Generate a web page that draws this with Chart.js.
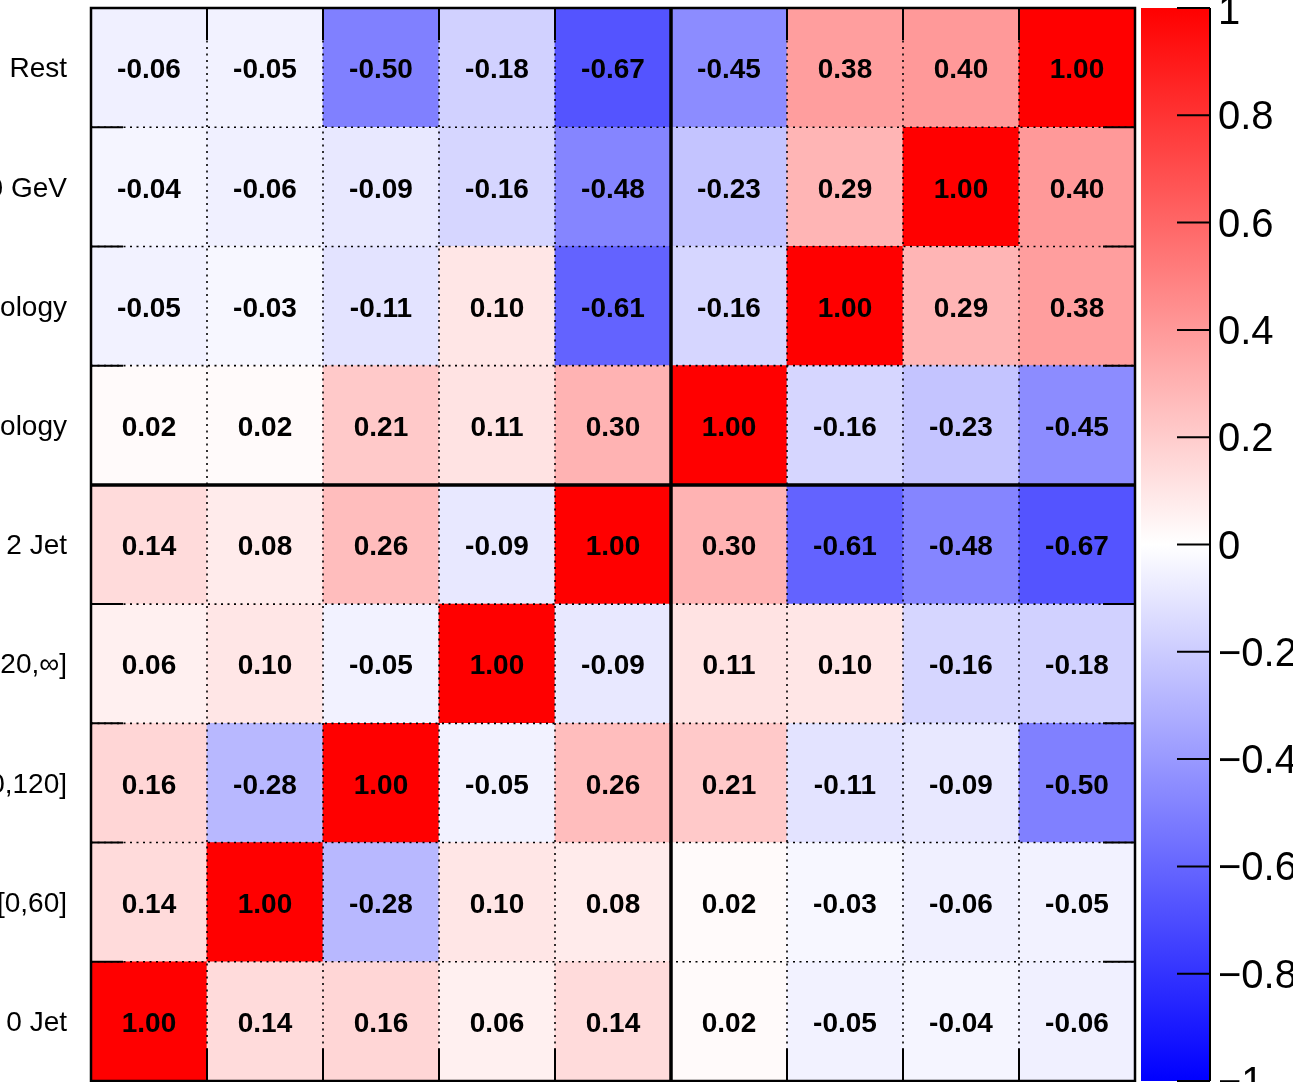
<!DOCTYPE html>
<html>
<head>
<meta charset="utf-8">
<script src="https://cdn.jsdelivr.net/npm/chart.js@4.4.0/dist/chart.umd.min.js"></script>
<style>
  html, body { margin: 0; padding: 0; background: #fff; }
  canvas { display: block; }
</style>
</head>
<body>
<canvas id="corr" width="1293" height="1082"></canvas>
<script>
// categories, bottom row / left column first
const categories = [
    '0 Jet',
    '1 Jet, pT \u2208 [0,60]',
    '1 Jet, pT \u2208 [60,120]',
    '1 Jet, pT \u2208 [120,\u221e]',
    '2 Jet',
    'VH Topology',
    'VBF Topology',
    'pT > 200 GeV',
    'Rest'
];

// correlation rows, same order as categories
const row0 = [1.00, 0.14, 0.16, 0.06, 0.14, 0.02, -0.05, -0.04, -0.06];
const row1 = [0.14, 1.00, -0.28, 0.10, 0.08, 0.02, -0.03, -0.06, -0.05];
const row2 = [0.16, -0.28, 1.00, -0.05, 0.26, 0.21, -0.11, -0.09, -0.50];
const row3 = [0.06, 0.10, -0.05, 1.00, -0.09, 0.11, 0.10, -0.16, -0.18];
const row4 = [0.14, 0.08, 0.26, -0.09, 1.00, 0.30, -0.61, -0.48, -0.67];
const row5 = [0.02, 0.02, 0.21, 0.11, 0.30, 1.00, -0.16, -0.23, -0.45];
const row6 = [-0.05, -0.03, -0.11, 0.10, -0.61, -0.16, 1.00, 0.29, 0.38];
const row7 = [-0.04, -0.06, -0.09, -0.16, -0.48, -0.23, 0.29, 1.00, 0.40];
const row8 = [-0.06, -0.05, -0.50, -0.18, -0.67, -0.45, 0.38, 0.40, 1.00];
const rows = [row0, row1, row2, row3, row4, row5, row6, row7, row8];

const colorbarTicks = [1, 0.8, 0.6, 0.4, 0.2, 0, -0.2, -0.4, -0.6, -0.8, -1];
const groupSplit = 4; // thick lines after this index

function valueColor(v) {
    if (v >= 0) {
        const c = Math.round(255 * (1 - v));
        return `rgb(255, ${c}, ${c})`;
    }
    const c = Math.round(255 * (1 + v));
    return `rgb(${c}, ${c}, 255)`;
}

function tickText(v) {
    if (v === 0) return '0';
    if (Math.abs(v) === 1) return v < 0 ? '\u22121' : '1';
    const s = Math.abs(v).toFixed(1);
    return v < 0 ? '\u2212' + s : s;
}

const datasets = rows.map((row, i) => ({
    label: categories[i],
    data: row.map(() => [i - 0.5, i + 0.5]),
    backgroundColor: row.map(valueColor),
    borderWidth: 0,
    barPercentage: 1,
    categoryPercentage: 1,
    grouped: false
}));

const FONT = "'Liberation Sans', Arial, Helvetica, sans-serif";

const matrixDecor = {
    id: 'matrixDecor',
    afterDatasetsDraw(chart) {
        const ctx = chart.ctx;
        const area = chart.chartArea;
        const x = chart.scales.x;
        const y = chart.scales.y;
        const cb = chart.scales.cb;
        const n = categories.length;

        const xEdge = k => k >= n ? area.right : (k <= 0 ? area.left :
            (x.getPixelForValue(k - 1) + x.getPixelForValue(k)) / 2);
        const yEdge = k => y.getPixelForValue(k - 0.5);

        ctx.save();

        // dotted grid at bin edges
        ctx.strokeStyle = '#000';
        ctx.lineWidth = 1.6;
        ctx.setLineDash([2, 4.5]);
        for (let k = 1; k < n; k++) {
            const px = xEdge(k);
            ctx.beginPath();
            ctx.moveTo(px, area.top);
            ctx.lineTo(px, area.bottom);
            ctx.stroke();
            const py = yEdge(k);
            ctx.beginPath();
            ctx.moveTo(area.left, py);
            ctx.lineTo(area.right, py);
            ctx.stroke();
        }
        ctx.setLineDash([]);

        // thick group separators
        ctx.lineWidth = 3.5;
        const sx = xEdge(groupSplit + 1);
        const sy = yEdge(groupSplit + 1);
        ctx.beginPath();
        ctx.moveTo(sx, area.top);
        ctx.lineTo(sx, area.bottom);
        ctx.moveTo(area.left, sy);
        ctx.lineTo(area.right, sy);
        ctx.stroke();

        // ticks on all four sides
        ctx.lineWidth = 2;
        const tl = 32;
        ctx.beginPath();
        for (let k = 1; k < n; k++) {
            const px = xEdge(k);
            ctx.moveTo(px, area.bottom);
            ctx.lineTo(px, area.bottom - tl);
            ctx.moveTo(px, area.top);
            ctx.lineTo(px, area.top + tl);
            const py = yEdge(k);
            ctx.moveTo(area.left, py);
            ctx.lineTo(area.left + tl, py);
            ctx.moveTo(area.right, py);
            ctx.lineTo(area.right - tl, py);
        }
        ctx.stroke();

        // frame
        ctx.lineWidth = 2.5;
        ctx.strokeRect(area.left, area.top, area.right - area.left, area.bottom - area.top);

        // cell values
        ctx.fillStyle = '#000';
        ctx.font = `bold 28px ${FONT}`;
        ctx.textAlign = 'center';
        ctx.textBaseline = 'middle';
        rows.forEach((row, i) => {
            row.forEach((v, j) => {
                ctx.fillText(v.toFixed(2), x.getPixelForValue(j), y.getPixelForValue(i) + 3);
            });
        });

        // row labels
        ctx.font = `28px ${FONT}`;
        ctx.textAlign = 'right';
        categories.forEach((c, i) => {
            ctx.fillText(c, area.left - 24, y.getPixelForValue(i) + 2);
        });

        // colour bar
        const cbLeft = area.right + 6;
        const cbRight = area.right + 75;
        const top = cb.getPixelForValue(1);
        const bottom = cb.getPixelForValue(-1);
        const grad = ctx.createLinearGradient(0, bottom, 0, top);
        grad.addColorStop(0, 'rgb(0, 0, 255)');
        grad.addColorStop(0.5, 'rgb(255, 255, 255)');
        grad.addColorStop(1, 'rgb(255, 0, 0)');
        ctx.fillStyle = grad;
        ctx.fillRect(cbLeft, top, cbRight - cbLeft, bottom - top);

        ctx.strokeStyle = '#000';
        ctx.lineWidth = 2;
        ctx.beginPath();
        ctx.moveTo(cbRight, top);
        ctx.lineTo(cbRight, bottom);
        colorbarTicks.forEach(t => {
            const py = cb.getPixelForValue(t);
            ctx.moveTo(cbRight, py);
            ctx.lineTo(cbRight - 33, py);
        });
        ctx.stroke();

        ctx.fillStyle = '#000';
        ctx.font = `40px ${FONT}`;
        ctx.textAlign = 'left';
        ctx.textBaseline = 'middle';
        colorbarTicks.forEach(t => {
            const py = Math.max(cb.getPixelForValue(t) + 3, 13);
            ctx.fillText(tickText(t), cbRight + 8, py);
        });

        ctx.restore();
    }
};

new Chart(document.getElementById('corr'), {
    type: 'bar',
    data: {
        labels: categories,
        datasets: datasets
    },
    options: {
        responsive: false,
        animation: false,
        layout: {
            padding: { left: 91, right: 158, top: 8, bottom: 1 }
        },
        plugins: {
            legend: { display: false },
            tooltip: { enabled: false }
        },
        scales: {
            x: {
                type: 'category',
                offset: true,
                display: false
            },
            y: {
                type: 'linear',
                min: -0.5,
                max: categories.length - 0.5,
                display: false
            },
            cb: {
                type: 'linear',
                position: 'right',
                min: -1,
                max: 1,
                display: false
            }
        }
    },
    plugins: [matrixDecor]
});
</script>
</body>
</html>
